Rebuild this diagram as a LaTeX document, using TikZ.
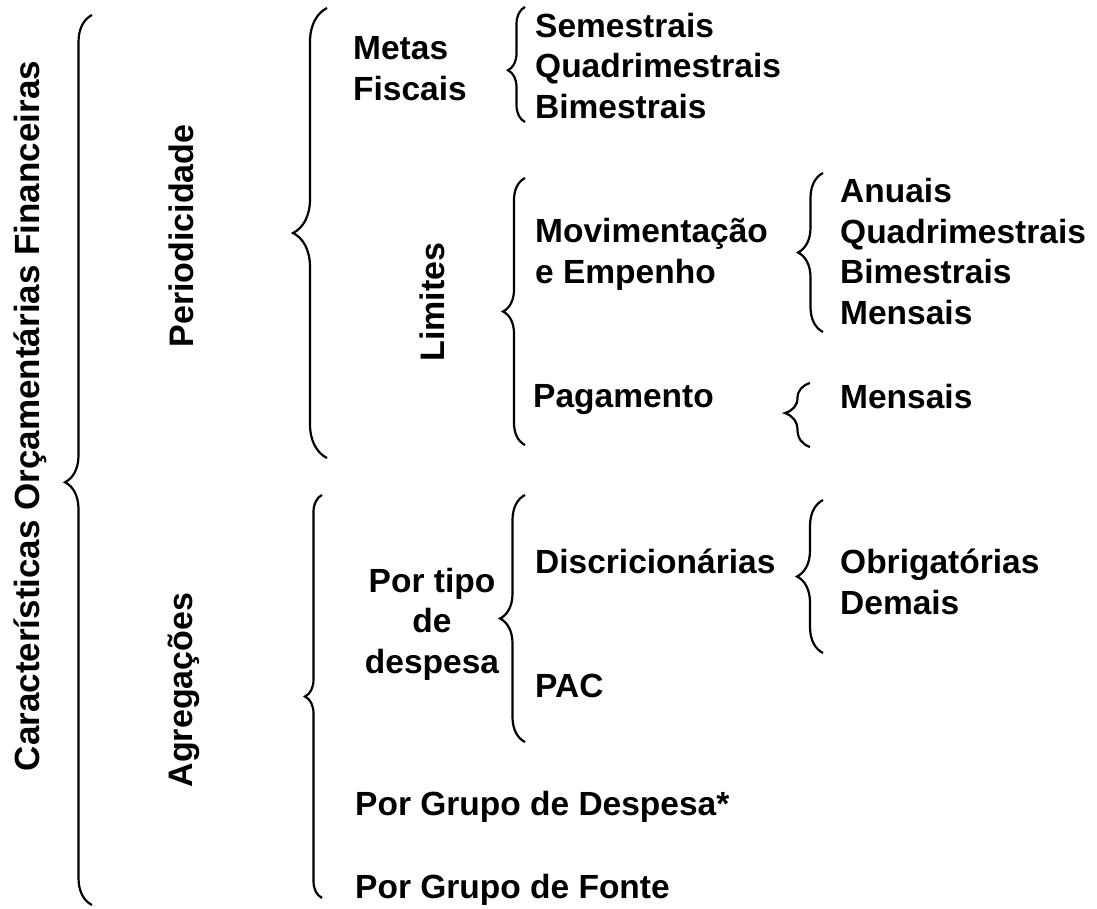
\documentclass[tikz,border=0pt]{standalone}
\usepackage{fontspec}
\setmainfont{Liberation Sans}
\usetikzlibrary{decorations.pathreplacing}
\tikzset{
  curly/.style={decorate, decoration={brace, amplitude=#1}, line width=2.2pt},
  lbl/.style={anchor=base west, inner sep=0pt, align=left, font=\bfseries\fontsize{33.5}{40.5}\selectfont},
  vlbl/.style={anchor=base, inner sep=0pt, rotate=90, font=\bfseries\fontsize{34}{40.5}\selectfont},
}
\begin{document}
\begin{tikzpicture}[x=1pt, y=-1pt]
            \useasboundingbox (0,0) rectangle (1097,908);
            % braces
            \draw[curly=27, decoration={aspect=0.475}] (92,905) -- (92,15);
            \draw[curly=34] (327,458) -- (327,8);
            \draw[curly=17] (322,898) -- (322,495);
            \draw[curly=17, decoration={aspect=0.45}] (525,122) -- (525,7);
            \draw[curly=22] (525,445) -- (525,178);
            \draw[curly=25] (823,332) -- (823,173);
            \draw[curly=25, decoration={aspect=0.53}] (810,447) -- (810,383);
            \draw[curly=25] (525,742) -- (525,495);
            \draw[curly=26] (823,653) -- (823,500);
            % vertical titles
            \node[vlbl, font=\bfseries\fontsize{35}{40.5}\selectfont] (carac) at (39,416) {Características Orçamentárias Financeiras};
            \node[vlbl] (period) at (193,236) {Periodicidade};
            \node[vlbl] (agreg) at (192,690) {Agregações};
            \node[vlbl] (limites) at (444,302) {Limites};
            % periodicidade (base = last line)
            \node[lbl] (metas) at (353,100) {Metas\\Fiscais};
            \node[lbl] (metasper) at (535,118) {Semestrais\\Quadrimestrais\\Bimestrais};
            \node[lbl] (movim) at (535,283) {Movimentação\\e Empenho};
            \node[lbl] (movper) at (840,324) {Anuais\\Quadrimestrais\\Bimestrais\\Mensais};
            \node[lbl] (pagto) at (533,407) {Pagamento};
            \node[lbl] (pagper) at (840,408) {Mensais};
            % agregacoes
            \node[lbl, anchor=base, align=center] (tipo) at (432,673) {Por tipo\\de\\despesa};
            \node[lbl] (discr) at (535,573) {Discricionárias};
            \node[lbl] (pac) at (535,697) {PAC};
            \node[lbl] (obrig) at (840,614) {Obrigatórias\\Demais};
            \node[lbl] (grpdesp) at (355,815) {Por Grupo de Despesa*};
            \node[lbl] (grpfonte) at (355,898) {Por Grupo de Fonte};
\end{tikzpicture}
\end{document}
